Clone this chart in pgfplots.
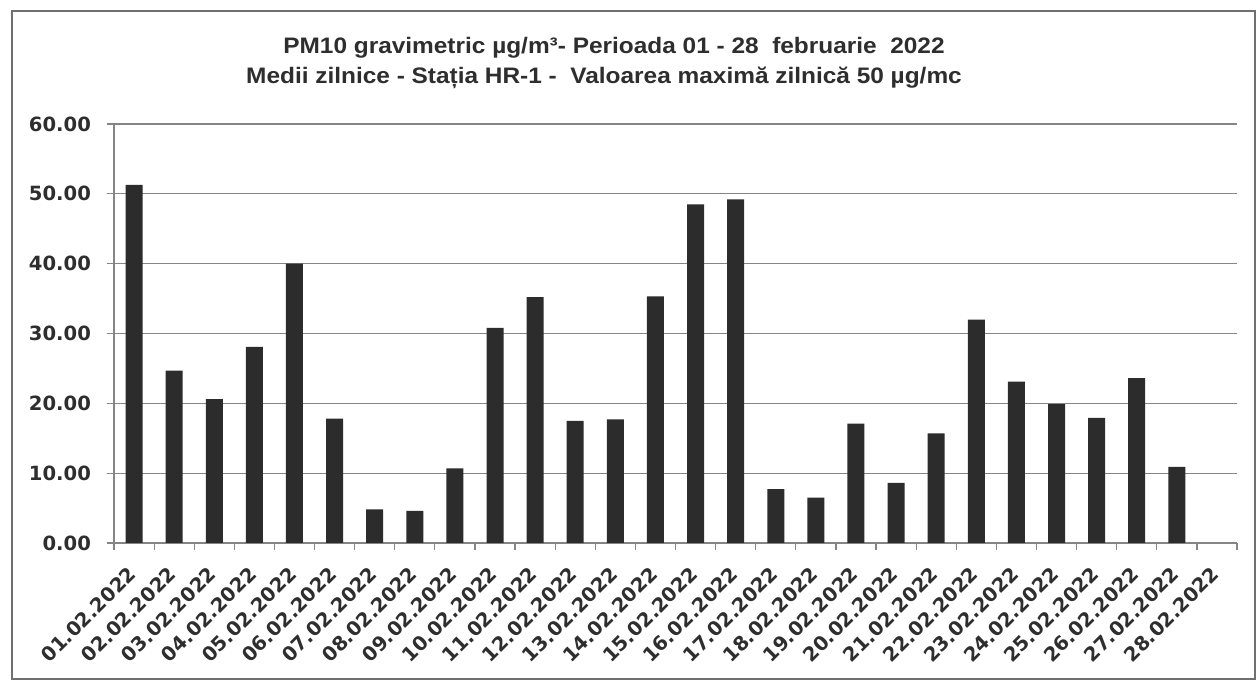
\documentclass[border=0pt]{standalone}
\usepackage{pgfplots}
\pgfplotsset{compat=1.18}
\usepackage{fontspec}
\setmainfont{DejaVu Sans}
\newfontfamily\titlefont[FakeStretch=1.09]{Liberation Sans Bold}
\definecolor{barc}{HTML}{2C2C2C}
\definecolor{gridc}{HTML}{858585}
\definecolor{labc}{HTML}{2E2E2E}
\definecolor{framec}{HTML}{707070}

\begin{document}
\begin{tikzpicture}
\path[fill=white] (0,0) rectangle (629.5pt,341.5pt);
\draw[draw=framec, line width=0.6pt] (6pt,2pt) rectangle (627.5pt,336pt);
\node[font=\titlefont\fontsize{11.2}{12}\selectfont, text=labc] at (307pt,317.5pt) {PM10 gravimetric µg/m³- Perioada 01 - 28\ \ februarie\ \ 2022};
\node[font=\titlefont\fontsize{11.2}{12}\selectfont, text=labc] at (302pt,302.5pt) {Medii zilnice - Stația HR-1 -\ \ Valoarea maximă zilnică 50 µg/mc};
\begin{axis}[at={(57pt,70pt)}, anchor=south west, scale only axis,
  width=561.5pt, height=209.5pt,
  xmin=-0.5, xmax=27.5, ymin=0, ymax=60,
  axis x line=bottom, axis y line=left,
  axis line style={-, draw=gridc, line width=0.6pt},
  ytick={0,10,...,60}, ymajorgrids,
  grid style={draw=gridc, line width=0.6pt},
  xtick={0,...,27},
  xticklabels={01.02.2022,02.02.2022,03.02.2022,04.02.2022,05.02.2022,06.02.2022,07.02.2022,08.02.2022,09.02.2022,10.02.2022,11.02.2022,12.02.2022,13.02.2022,14.02.2022,15.02.2022,16.02.2022,17.02.2022,18.02.2022,19.02.2022,20.02.2022,21.02.2022,22.02.2022,23.02.2022,24.02.2022,25.02.2022,26.02.2022,27.02.2022,28.02.2022},
  minor xtick={-0.5,0.5,...,27.5},
  tick align=outside, major tick length=3.5pt, minor tick length=3.5pt,
  tick style={draw=gridc, line width=0.6pt},
  major x tick style=transparent,
  ticklabel style={font=\bfseries\fontsize{9.8}{12}\selectfont, text=labc},
  xticklabel style={xshift=-3.5pt, rotate=45, anchor=north east, inner sep=1pt},
  xticklabel shift=6pt,
  yticklabel shift=4.5pt,
  /pgf/number format/assume math mode=true,
  yticklabel style={/pgf/number format/fixed, /pgf/number format/fixed zerofill, /pgf/number format/precision=2},
  clip=false,
]
\addplot[ybar, bar width=8.5pt, fill=barc, draw=none] coordinates {
(0,51.3) (1,24.7) (2,20.6) (3,28.1) (4,40.0) (5,17.8) (6,4.8) (7,4.6)
(8,10.7) (9,30.8) (10,35.2) (11,17.5) (12,17.7) (13,35.3) (14,48.5) (15,49.2)
(16,7.7) (17,6.5) (18,17.1) (19,8.6) (20,15.7) (21,32.0) (22,23.1) (23,19.9)
(24,17.9) (25,23.6) (26,10.9)
};
\end{axis}
\end{tikzpicture}
\end{document}
